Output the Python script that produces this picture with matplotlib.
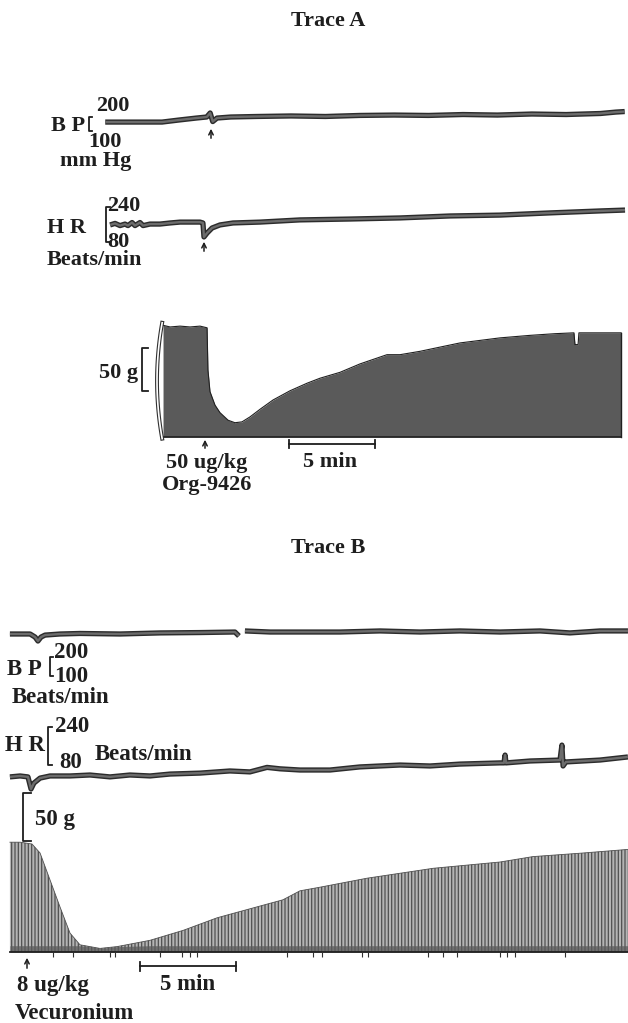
import numpy as np
import matplotlib
matplotlib.use("Agg")
import matplotlib.pyplot as plt

W, H = 628, 1023

# ---- Trace A (Org-9426), time in minutes from the injection ----
a_bp_t = [-5.8, -4.0, -2.5, -1.5, -0.5, 0.1, 0.3, 0.45, 0.7, 1.5, 3, 5, 7, 9, 11, 13, 15, 17, 19, 21, 23, 23.9, 24.4]
a_bp = [161, 161, 161, 177, 192, 200, 231, 165, 192, 200, 204, 208, 204, 212, 215, 212, 219, 215, 223, 219, 227, 238, 242]

a_hr_t = [-5.52, -5.23, -4.94, -4.65, -4.48, -4.24, -4.07, -3.78, -3.60, -3.20, -2.62, -2.03, -1.45, -0.58,
          -0.29, -0.12, -0.06, 0.12, 0.41, 0.87, 1.63, 3.20, 5.52, 8.43, 11.34, 14.24, 17.15, 20.06, 22.97, 24.42]
a_hr = [158, 165, 155, 162, 155, 169, 155, 169, 155, 162, 162, 167, 171, 171,
        171, 167, 103, 121, 144, 158, 167, 171, 181, 185, 190, 199, 203, 213, 222, 226]

a_tw_t = [-2.44, -2.03, -1.45, -0.87, -0.29, 0.12, 0.17, 0.29, 0.58, 0.87, 1.34, 1.74, 2.15, 2.62, 3.20, 3.95,
          4.94, 5.93, 6.69, 7.85, 9.01, 10.58, 11.34, 12.50, 13.66, 14.83, 15.99, 17.15, 18.90, 20.35,
          21.45, 21.51, 21.69, 21.74, 22.97, 24.19]
a_tw = [133, 131, 132, 131, 132, 130, 80, 54, 38, 29, 20, 17, 18, 24, 33, 44,
        55, 64, 70, 77, 87, 98, 98, 102, 107, 112, 115, 118, 121, 123,
        124, 110, 110, 124, 124, 124]

# ---- Trace B (Vecuronium) ----
b_bp_t = [-0.89, -0.36, 0.16, 0.42, 0.57, 0.73, 0.94, 1.72, 2.76, 4.84, 6.93, 9.01, 10.83, 11.04, 11.2,
          11.35, 12.66, 14.22, 16.30, 18.39, 20.47, 22.55, 24.64, 26.72, 28.28, 29.84, 31.30]
b_bp = [160, 160, 160, 143, 121, 143, 154, 160, 163, 160, 166, 168, 171, 149, np.nan,
        177, 171, 171, 171, 177, 171, 177, 171, 177, 166, 177, 177]

b_hr_t = [-0.89, -0.36, 0.05, 0.21, 0.36, 0.68, 1.20, 2.24, 3.28, 4.32, 5.36, 6.41, 7.45, 9.01, 10.57, 11.61,
          12.50, 13.18, 14.22, 15.78, 17.34, 19.43, 20.99, 22.55, 24.64, 24.84, 24.90, 24.95, 26.20, 27.76,
          27.86, 27.92, 28.07, 29.84, 31.30]
b_hr = [172, 176, 172, 121, 146, 167, 176, 176, 180, 172, 180, 176, 184, 188, 197, 193,
        212, 206, 201, 201, 214, 222, 218, 226, 231, 231, 264, 231, 239, 243,
        306, 218, 235, 243, 256]

b_tw_t = [-0.89, -0.36, 0.26, 0.68, 1.20, 1.72, 2.24, 2.76, 3.28, 3.80, 4.69, 6.41, 8.13, 9.90, 11.61,
          13.33, 14.22, 15.26, 17.71, 21.15, 24.64, 26.35, 28.96, 31.30]
b_tw = [122, 122, 120, 110, 80, 50, 21, 8, 6, 4, 6, 13, 24, 38, 48,
        58, 68, 72, 82, 93, 100, 106, 110, 114]
b_marks = [1.35, 2.40, 4.32, 4.58, 6.93, 8.07, 8.49, 8.85, 13.54, 14.90, 15.36, 17.45, 17.76,
           20.89, 21.67, 22.40, 24.64, 25.0, 25.42, 28.02]

INK = "#1e1e1e"
FONT = ["Liberation Serif", "DejaVu Serif"]
plt.rcParams["hatch.linewidth"] = 0.9

fig = plt.figure(figsize=(W / 100, H / 100), dpi=100)


def trace_axes(x_inj, ppm, y_ref, v_ref, px_per_unit):
    # full-figure axes whose scale puts v_ref at pixel row y_ref
    ax = fig.add_axes([0, 0, 1, 1])
    ax.set_xlim(-x_inj / ppm, (W - x_inj) / ppm)
    ax.set_ylim(v_ref - (H - y_ref) / px_per_unit, v_ref + y_ref / px_per_unit)
    ax.axis("off")
    ax.patch.set_alpha(0)
    return ax


def pen(ax, t, v):
    ax.plot(t, v, color="#2c2c2c", lw=3.8, solid_capstyle="butt", solid_joinstyle="round")
    ax.plot(t, v, color="#6c6c6c", lw=1.7, solid_capstyle="butt", solid_joinstyle="round")


def scale_bar(ax, t0, v, tick):
    ax.plot([t0, t0 + 5], [v, v], color=INK, lw=1.3)
    ax.plot([t0, t0], [v - tick, v + tick], color=INK, lw=1.3)
    ax.plot([t0 + 5, t0 + 5], [v - tick, v + tick], color=INK, lw=1.3)


# Trace A
ax = trace_axes(205, 17.2, 117, 200, 0.13)
pen(ax, a_bp_t, a_bp)
ax = trace_axes(205, 17.2, 207, 240, 0.21875)
pen(ax, a_hr_t, a_hr)

ax = trace_axes(205, 17.2, 437, 0, 0.84)
ax.fill_between(a_tw_t, 0, a_tw, color="#5a5a5a", lw=0)
ax.plot(a_tw_t, a_tw, color="#202020", lw=0.8)
ax.plot([a_tw_t[0], a_tw_t[-1]], [0, 0], color="#202020", lw=1.2)
ax.plot([a_tw_t[-1], a_tw_t[-1]], [0, a_tw[-1]], color="#202020", lw=1.0)
s = np.linspace(-1, 1, 40)
arc_v = (s + 1) / 2 * (a_tw[0] + 5) - 2
arc_t = a_tw_t[0] - 0.05 - 0.3 * (1 - s ** 2)
ax.plot(arc_t, arc_v, color="#303030", lw=2.8)
ax.plot(arc_t, arc_v, color="white", lw=1.2)
scale_bar(ax, 4.88, -8.3, 5)

# Trace B
ax = trace_axes(27, 19.2, 634, 160, 0.18)
pen(ax, b_bp_t, b_bp)
ax = trace_axes(27, 19.2, 775, 180, 0.2375)
pen(ax, b_hr_t, b_hr)

ax = trace_axes(27, 19.2, 952, 0, 0.9)
ax.fill_between(b_tw_t, 0, b_tw, facecolor="#b4b4b4", edgecolor="#505050", hatch="|||||", lw=0)
ax.fill_between(b_tw_t, 0, np.minimum(b_tw, 7), color="#5a5a5a", alpha=0.75, lw=0)
ax.plot(b_tw_t, b_tw, color="#505050", lw=0.6)
ax.plot([b_tw_t[0], b_tw_t[-1]], [0, 0], color="#202020", lw=1.3)
ax.vlines(b_marks, -6, 0, color="#303030", lw=0.8)
scale_bar(ax, 5.89, -15.6, 5)

# labels, brackets and arrows in pixel layout
lab = fig.add_axes([0, 0, 1, 1])
lab.set_xlim(0, W)
lab.set_ylim(H, 0)
lab.axis("off")
lab.patch.set_alpha(0)


def txt(x, y, s, size=16, ha="left"):
    lab.text(x, y, s, fontsize=size, fontweight="bold", family=FONT, color=INK, ha=ha, va="baseline")


def bracket(x, y0, y1, serif=4):
    lab.plot([x + serif, x, x, x + serif], [y0, y0, y1, y1], color=INK, lw=1.3)


def arrow(x, y_head, y_tail):
    lab.annotate("", xy=(x, y_head), xytext=(x, y_tail),
                 arrowprops=dict(arrowstyle="->", lw=1.1, color=INK, mutation_scale=8))


txt(328, 26, "Trace A", ha="center")
txt(51, 131, "B P")
bracket(89, 117, 131, 3)
txt(96, 111, "200")
txt(88, 147, "100")
txt(60, 166, "mm Hg")
arrow(211, 126, 141)

txt(47, 233, "H R")
bracket(106, 207, 242)
txt(107, 211, "240")
txt(107, 247, "80")
txt(47, 265, "Beats/min")
arrow(204, 239, 254)

txt(99, 378, "50 g")
bracket(142, 348, 391, 6)
arrow(205, 437, 451)
txt(207, 468, "50 ug/kg", ha="center")
txt(207, 490, "Org-9426", ha="center")
txt(330, 467, "5 min", ha="center")

txt(328, 553, "Trace B", ha="center")
txt(7, 675, "B P", size=16.5)
bracket(50, 657, 676, 3)
txt(54, 658, "200", size=16.5)
txt(54, 682, "100", size=16.5)
txt(12, 703, "Beats/min", size=16.5)

txt(5, 751, "H R", size=16.5)
bracket(48, 727, 765, 4)
txt(55, 732, "240", size=16.5)
txt(59, 768, "80", size=16.5)
txt(95, 760, "Beats/min", size=16.5)

bracket(23, 793, 841, 8)
txt(35, 825, "50 g", size=16.5)
arrow(27, 955, 971)
txt(17, 991, "8 ug/kg", size=16.5)
txt(15, 1019, "Vecuronium", size=16.5)
txt(188, 990, "5 min", size=16.5, ha="center")

fig.savefig("out.png", dpi=100, facecolor="white")
